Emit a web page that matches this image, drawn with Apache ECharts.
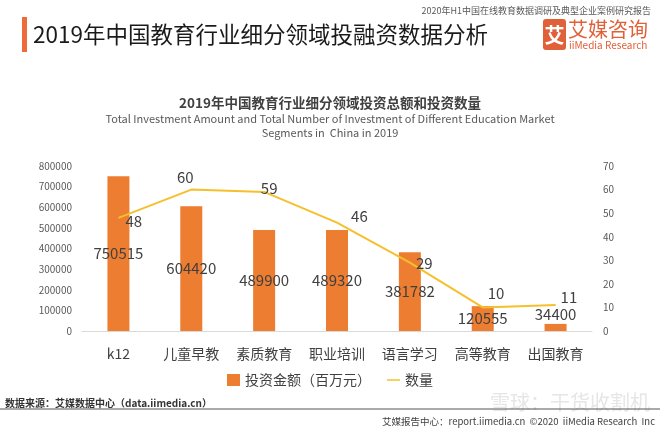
<!DOCTYPE html>
<html><head><meta charset="utf-8">
<script src="https://cdn.jsdelivr.net/npm/echarts@6/dist/echarts.min.js"></script>
<style>html,body{margin:0;padding:0;background:#fff}#c{width:660px;height:429px}</style>
</head><body><div id="c"></div>
<script>
var categories = ['k12','儿童早教','素质教育','职业培训','语言学习','高等教育','出国教育'];
var amountValues = [750515, 604420, 489900, 489320, 381782, 120555, 34400];
var countValues = [48, 60, 59, 46, 29, 10, 11];
var leftTicks = {min: 0, max: 800000, interval: 100000};
var rightTicks = {min: 0, max: 70, interval: 10};

var FONT = '"Noto Sans CJK SC", "Noto Sans", sans-serif';
var chart = echarts.init(document.getElementById('c'));

var lineLabelCfg = [
  {position: 'right', distance: 7, offset: [0, 3]},
  {position: 'top', distance: 5, offset: [-6, 0]},
  {position: 'top', distance: 5, offset: [5, 9]},
  {position: 'right', distance: 14, offset: [0, -6]},
  {position: 'right', distance: 6, offset: [0, 1]},
  {position: 'right', distance: 5, offset: [0, -14]},
  {position: 'right', distance: 5, offset: [0, -8]}
];
var lineData = countValues.map(function (v, i) {
  return {value: v, label: lineLabelCfg[i]};
});
var barData = amountValues.map(function (v, i) {
  if (i === amountValues.length - 1) return {value: v, label: {position: 'top', distance: 2}};
  return v;
});

chart.setOption({
  animation: false,
  textStyle: {fontFamily: FONT},
  title: [
    {text: '2019年中国教育行业细分领域投资总额和投资数量', left: 'center', top: 91,
     textStyle: {fontSize: 13.5, fontWeight: 'bold', color: '#404040', fontFamily: FONT}}
  ],
  grid: {left: 82, right: 68, top: 166, bottom: 98},
  legend: {
    bottom: 37, left: 'center', itemGap: 16, itemWidth: 13, itemHeight: 12,
    textStyle: {fontSize: 14, color: '#404040', fontFamily: FONT},
    data: [{name: '投资金额（百万元）', icon: 'rect'},
           {name: '数量', icon: 'path://M0,5.2 L14,5.2 L14,6.8 L0,6.8 Z'}]
  },
  xAxis: {
    type: 'category', data: categories,
    axisLine: {lineStyle: {color: '#d9d9d9'}},
    axisTick: {show: false},
    axisLabel: {fontSize: 14, color: '#404040', margin: 16, fontFamily: FONT}
  },
  yAxis: [
    {type: 'value', min: leftTicks.min, max: leftTicks.max, interval: leftTicks.interval,
     splitLine: {show: false}, axisLine: {show: false}, axisTick: {show: false},
     axisLabel: {fontSize: 10, color: '#595959', margin: 10, fontFamily: FONT,
                 formatter: function (v) { return String(v); }}},
    {type: 'value', min: rightTicks.min, max: rightTicks.max, interval: rightTicks.interval,
     splitLine: {show: false}, axisLine: {show: false}, axisTick: {show: false},
     axisLabel: {fontSize: 10, color: '#595959', margin: 11, fontFamily: FONT,
                 formatter: function (v) { return String(v); }}}
  ],
  series: [
    {name: '投资金额（百万元）', type: 'bar', data: barData, barWidth: 22,
     itemStyle: {color: '#ED7D31'},
     label: {show: true, position: 'inside', fontSize: 15, color: '#404040', fontFamily: FONT}},
    {name: '数量', type: 'line', yAxisIndex: 1, data: lineData, symbol: 'circle', symbolSize: 0.1,
     showSymbol: true,
     lineStyle: {color: '#F5C02C', width: 2}, itemStyle: {color: '#F5C02C'},
     label: {show: true, fontSize: 15, color: '#404040', fontFamily: FONT}}
  ],
  graphic: [
    {type: 'rect', shape: {x: 22, y: 17, width: 5, height: 35}, style: {fill: '#EE6A3A'}},
    {type: 'text', x: 33, y: 34, style: {text: '2019年中国教育行业细分领域投融资数据分析', font: '22.5px ' + FONT, fill: '#1a1a1a', textVerticalAlign: 'middle'}},
    {type: 'text', x: 651, y: 11, style: {text: '2020年H1中国在线教育数据调研及典型企业案例研究报告', font: '9px ' + FONT, fill: '#595959', textAlign: 'right', textVerticalAlign: 'middle'}},
    {type: 'rect', shape: {x: 543, y: 19, width: 23, height: 31, r: 3}, style: {fill: '#E0603A'}},
    {type: 'text', x: 554.5, y: 35, style: {text: '艾', font: 'bold 20px ' + FONT, fill: '#fff', textAlign: 'center', textVerticalAlign: 'middle'}},
    {type: 'text', x: 568, y: 29, style: {text: '艾媒咨询', font: '20px ' + FONT, fill: '#E0603A', textVerticalAlign: 'middle'}},
    {type: 'text', x: 569, y: 45, style: {text: 'iiMedia Research', font: '10px ' + FONT, fill: '#E0603A', textVerticalAlign: 'middle'}},
    {type: 'text', x: 330, y: 119, style: {text: 'Total Investment Amount and Total Number of Investment of Different Education Market', font: '11px ' + FONT, fill: '#595959', textAlign: 'center', textVerticalAlign: 'middle'}},
    {type: 'text', x: 330, y: 133, style: {text: 'Segments in  China in 2019', font: '11px ' + FONT, fill: '#595959', textAlign: 'center', textVerticalAlign: 'middle'}},
    {type: 'text', x: 5, y: 403, style: {text: '数据来源：艾媒数据中心（data.iimedia.cn）', font: 'bold 10px ' + FONT, fill: '#333', textVerticalAlign: 'middle'}},
    {type: 'text', x: 650, y: 402, style: {text: '雪球：干货收割机', font: '20px ' + FONT, fill: '#e6e6e6', textAlign: 'right', textVerticalAlign: 'middle'}},
    {type: 'line', shape: {x1: 0, y1: 409, x2: 660, y2: 409}, style: {stroke: '#555', lineWidth: 1}},
    {type: 'text', x: 655, y: 421, style: {text: '艾媒报告中心：report.iimedia.cn  ©2020  iiMedia Research  Inc', font: '9.5px ' + FONT, fill: '#404040', textAlign: 'right', textVerticalAlign: 'middle'}}
  ]
});
</script></body></html>
